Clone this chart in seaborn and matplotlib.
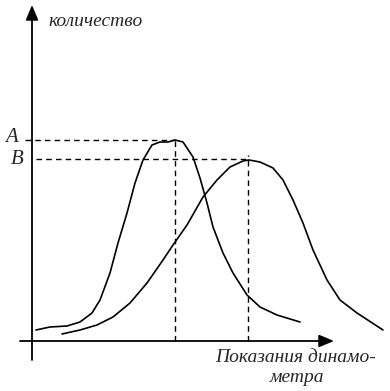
import pandas as pd
import matplotlib
matplotlib.use("Agg")
import matplotlib.pyplot as plt
import seaborn as sns

# curve 1 (narrow, peak A) - dynamometer reading vs count
x1 = [4, 18, 35, 48, 60, 68, 78, 86, 95, 103, 111, 120, 128, 136, 143,
      151, 161, 168, 175, 181, 191, 201, 215, 228, 245, 268]
y1 = [11, 14, 15, 19, 28, 41, 68, 98, 128, 158, 181, 196, 199, 199, 201,
      199, 184, 163, 138, 114, 88, 68, 46, 34, 26, 19]

# curve 2 (wide, peak B)
x2 = [30, 48, 65, 81, 98, 115, 131, 141, 155, 171, 185, 198, 211, 217,
      228, 241, 251, 261, 271, 281, 295, 308, 325, 351]
y2 = [7, 11, 16, 24, 38, 58, 81, 96, 116, 144, 161, 174, 180, 181,
      179, 173, 161, 141, 118, 91, 61, 41, 28, 11]

peak_a = (143, 201)
peak_b = (216, 182)
labels = ["A", "B"]

sns.set_style("white")
plt.rcParams["font.family"] = ["Liberation Serif", "DejaVu Serif"]

fig = plt.figure(figsize=(3.9, 3.91), dpi=100)
ax = fig.add_axes([0, 0, 1, 1])
ax.set_xlim(-32, 358)
ax.set_ylim(-50, 341)
ax.axis("off")

df1 = pd.DataFrame({"x": x1, "y": y1})
df2 = pd.DataFrame({"x": x2, "y": y2})
sns.lineplot(data=df1, x="x", y="y", ax=ax, color="black", lw=1.2, sort=False)
sns.lineplot(data=df2, x="x", y="y", ax=ax, color="black", lw=1.2, sort=False)

# axes with arrows
arrow = dict(arrowstyle="-|>,head_length=0.6,head_width=0.25", color="black",
             lw=1.3, mutation_scale=15, shrinkA=0, shrinkB=0)
ax.annotate("", xy=(0, 336), xytext=(0, -19), arrowprops=arrow)
ax.annotate("", xy=(302, 0), xytext=(-12, 0), arrowprops=arrow)

# dashed guides
dash = dict(color="black", lw=1.0, ls=(0, (4, 3)))
ax.plot([-7, peak_a[0]], [peak_a[1], peak_a[1]], **dash)
ax.plot([peak_a[0], peak_a[0]], [0, peak_a[1] + 3], **dash)
ax.plot([4, peak_b[0]], [peak_b[1], peak_b[1]], **dash)
ax.plot([peak_b[0], peak_b[0]], [0, peak_b[1] + 4], **dash)

ax.text(-20, peak_a[1] + 2, labels[0], fontsize=15, style="italic",
        ha="center", va="center")
ax.text(-15, peak_b[1] - 1, labels[1], fontsize=15, style="italic",
        ha="center", va="center")

ax.text(16, 319, "количество", fontsize=14, style="italic", ha="left", va="center")
ax.text(183, -17, "Показания динамо-", fontsize=14, style="italic",
        ha="left", va="center")
ax.text(265, -37, "метра", fontsize=14, style="italic", ha="center", va="center")

fig.savefig("out.png", dpi=100)
